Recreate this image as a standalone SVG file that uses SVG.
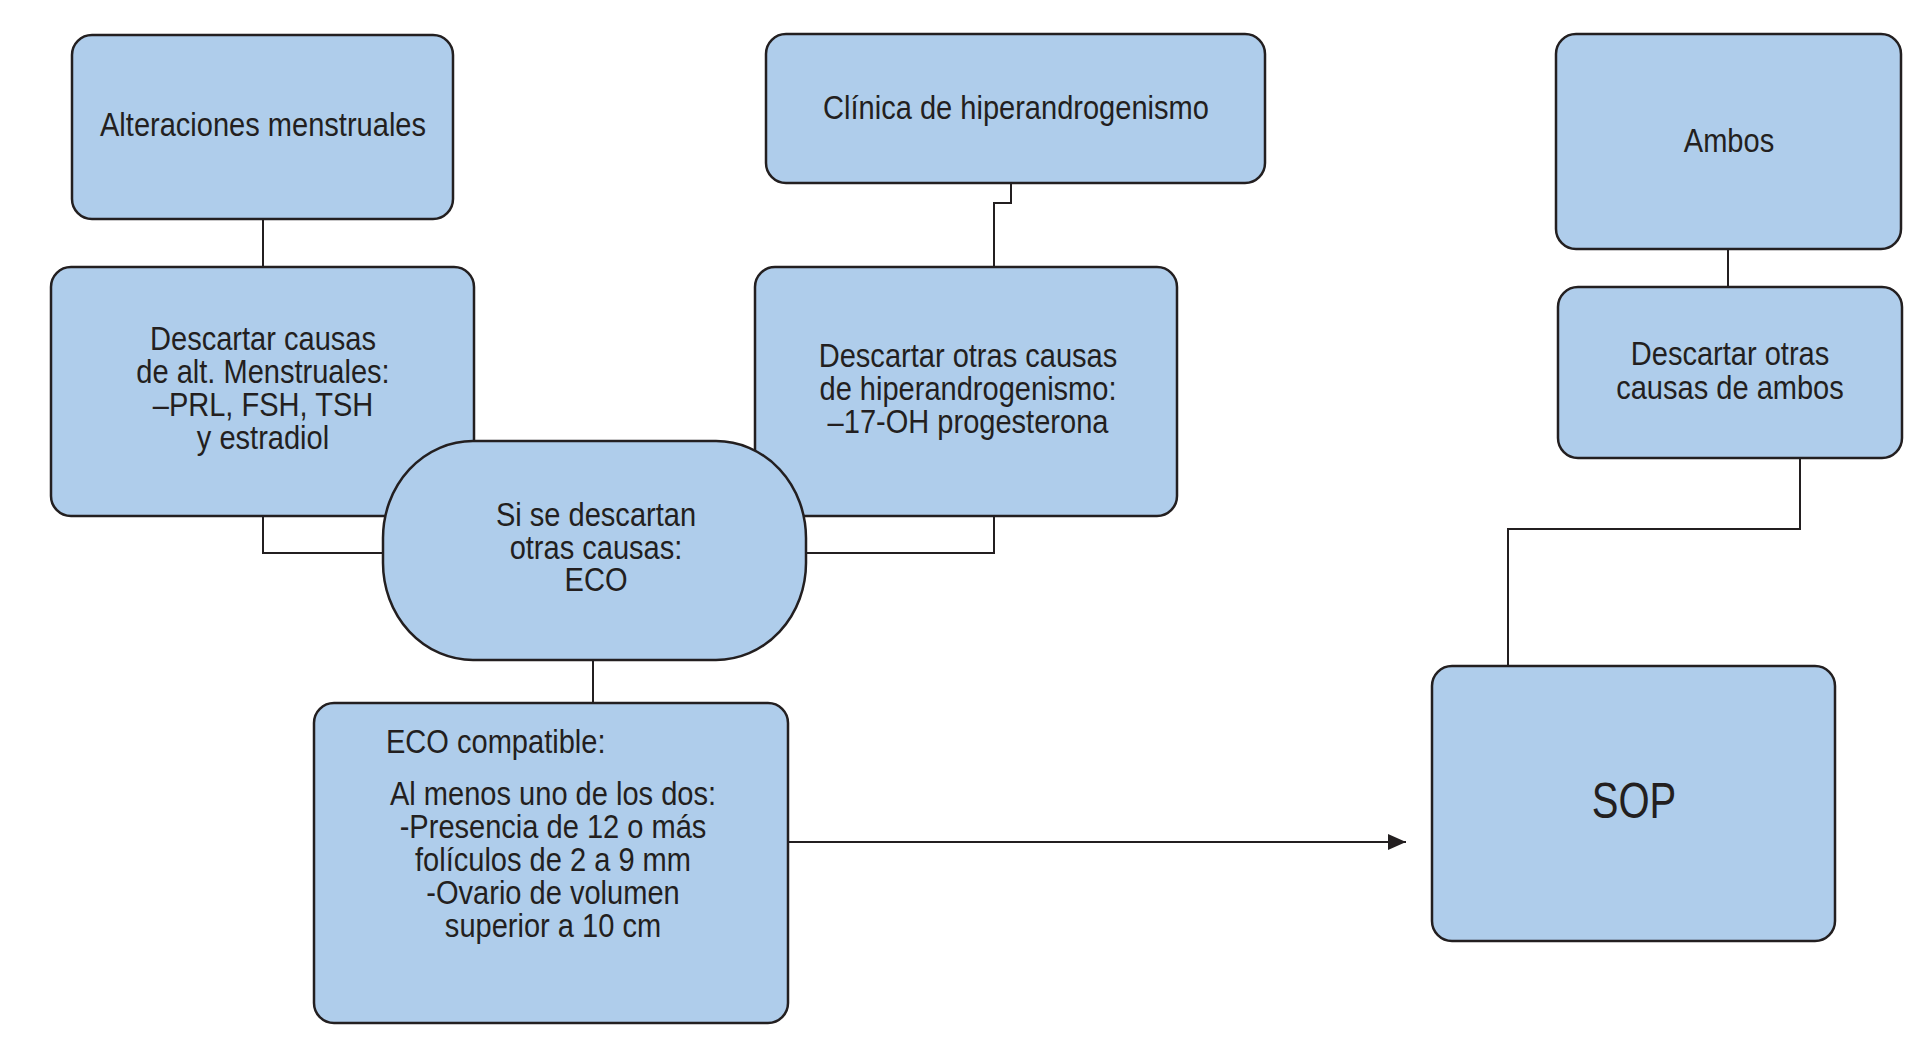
<svg xmlns="http://www.w3.org/2000/svg" width="1925" height="1045" viewBox="0 0 1925 1045">
<style>
.box{fill:#AFCDEB;stroke:#231F20;stroke-width:2.5}
.conn{fill:none;stroke:#231F20;stroke-width:2}
.t{font-family:"Liberation Sans",Arial,sans-serif;font-size:33px;fill:#231F20}
.c{text-anchor:middle}
</style>
<defs>
<marker id="arr" markerUnits="userSpaceOnUse" markerWidth="20" markerHeight="18" refX="18" refY="8" orient="auto">
<path d="M0,0 L18,8 L0,16 z" fill="#231F20"/>
</marker>
</defs>
<rect width="1925" height="1045" fill="#fff"/>
<g id="connectors">
<path class="conn" d="M263,219 V267"/>
<path class="conn" d="M263,516 V553 H384"/>
<path class="conn" d="M1011,183 V203 H994 V267"/>
<path class="conn" d="M994,516 V553 H805"/>
<path class="conn" d="M593,660 V703"/>
<path class="conn" d="M1728,249 V287"/>
<path class="conn" d="M1800,458 V529 H1508 V666"/>
<path class="conn" d="M788,842 H1406" marker-end="url(#arr)"/>
</g>
<g id="n-alteraciones">
<rect class="box" x="72" y="35" width="381" height="184" rx="20"/>
<g transform="translate(263,0) scale(0.88,1)"><text class="t c" x="0" y="136">Alteraciones menstruales</text></g>
</g>
<g id="n-descartar-alt">
<rect class="box" x="51" y="267" width="423" height="249" rx="20"/>
<g transform="translate(263,0) scale(0.88,1)">
<text class="t c" x="0" y="350">Descartar causas</text>
<text class="t c" x="0" y="383">de alt. Menstruales:</text>
<text class="t c" x="0" y="416">–PRL, FSH, TSH</text>
<text class="t c" x="0" y="449">y estradiol</text>
</g>
</g>
<g id="n-clinica">
<rect class="box" x="766" y="34" width="499" height="149" rx="20"/>
<g transform="translate(1016,0) scale(0.88,1)"><text class="t c" x="0" y="119">Clínica de hiperandrogenismo</text></g>
</g>
<g id="n-descartar-hiper">
<rect class="box" x="755" y="267" width="422" height="249" rx="20"/>
<g transform="translate(968,0) scale(0.88,1)">
<text class="t c" x="0" y="367">Descartar otras causas</text>
<text class="t c" x="0" y="400">de hiperandrogenismo:</text>
<text class="t c" x="0" y="433">–17-OH progesterona</text>
</g>
</g>
<g id="n-si-se-descartan">
<rect class="box" x="383" y="441" width="423" height="219" rx="90" ry="97"/>
<g transform="translate(596,0) scale(0.88,1)">
<text class="t c" x="0" y="526">Si se descartan</text>
<text class="t c" x="0" y="559">otras causas:</text>
<text class="t c" x="0" y="591">ECO</text>
</g>
</g>
<g id="n-eco">
<rect class="box" x="314" y="703" width="474" height="320" rx="20"/>
<g transform="translate(386,0) scale(0.88,1)"><text class="t" x="0" y="753">ECO compatible:</text></g>
<g transform="translate(553,0) scale(0.88,1)">
<text class="t c" x="0" y="805">Al menos uno de los dos:</text>
<text class="t c" x="0" y="838">-Presencia de 12 o más</text>
<text class="t c" x="0" y="871">folículos de 2 a 9 mm</text>
<text class="t c" x="0" y="904">-Ovario de volumen</text>
<text class="t c" x="0" y="937">superior a 10 cm</text>
</g>
</g>
<g id="n-ambos">
<rect class="box" x="1556" y="34" width="345" height="215" rx="20"/>
<g transform="translate(1729,0) scale(0.88,1)"><text class="t c" x="0" y="152">Ambos</text></g>
</g>
<g id="n-descartar-ambos">
<rect class="box" x="1558" y="287" width="344" height="171" rx="20"/>
<g transform="translate(1730,0) scale(0.88,1)">
<text class="t c" x="0" y="365">Descartar otras</text>
<text class="t c" x="0" y="399">causas de ambos</text>
</g>
</g>
<g id="n-sop">
<rect class="box" x="1432" y="666" width="403" height="275" rx="20"/>
<g transform="translate(1634,0) scale(0.8,1)"><text class="t c" x="0" y="818" style="font-size:50px">SOP</text></g>
</g>
</svg>
